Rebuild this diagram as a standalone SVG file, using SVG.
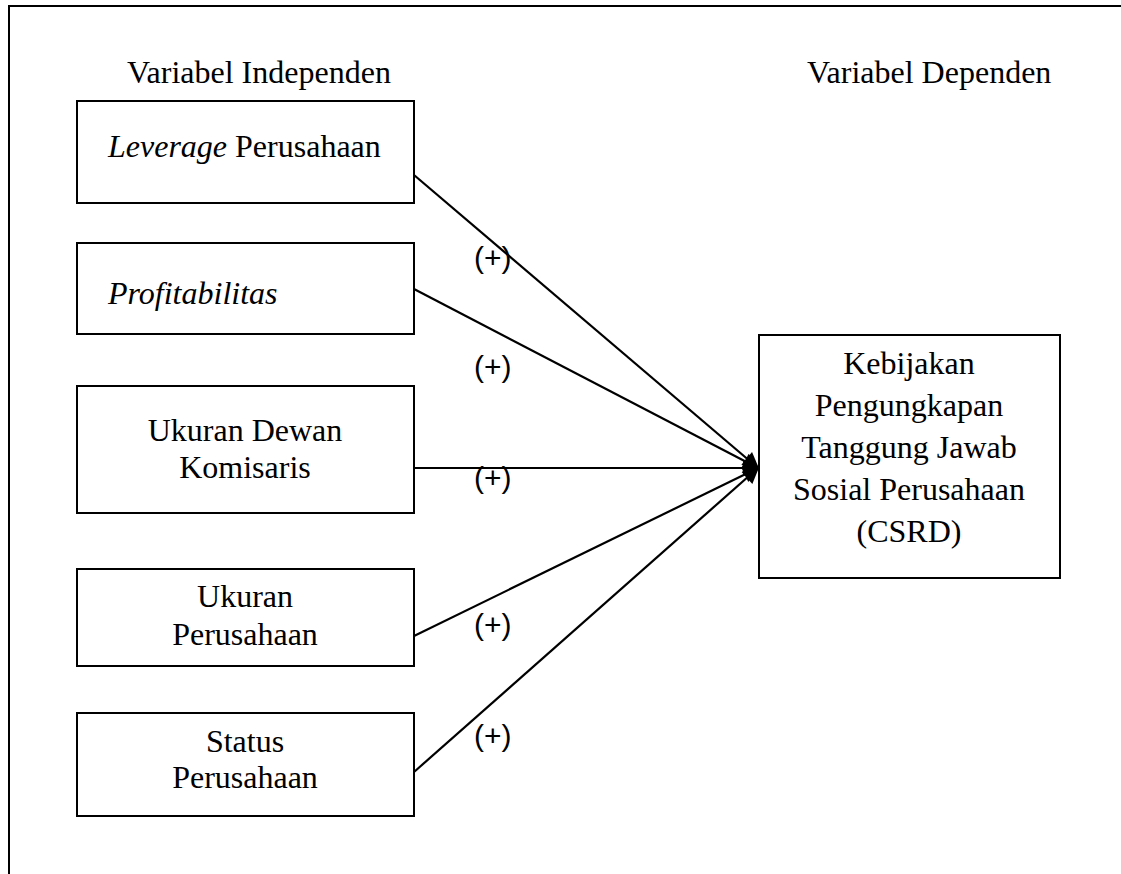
<svg xmlns="http://www.w3.org/2000/svg" width="1121" height="874" viewBox="0 0 1121 874">
<style>
.box{fill:#fff;stroke:#000;stroke-width:2}
.t{font-family:"Liberation Serif","Times New Roman",serif;font-size:32px;fill:#000}
.c{text-anchor:middle}
.lbl{font-family:"Liberation Sans",Arial,sans-serif;font-size:30px;fill:#000}
.con{stroke:#000;stroke-width:2.2;fill:none;marker-end:url(#ah)}
</style>
<defs>
<marker id="ah" viewBox="0 0 10 10" refX="9" refY="5" markerWidth="8" markerHeight="7.5" orient="auto">
<path d="M0,0 L10,5 L0,10 z" fill="#000"/>
</marker>
</defs>
<rect width="1121" height="874" fill="#fff"/>
<path d="M9,874 V6 H1121" fill="none" stroke="#000" stroke-width="2"/>
<text class="t" x="127" y="83">Variabel Independen</text>
<text class="t" x="807" y="83">Variabel Dependen</text>
<g id="connectors">
<line class="con" x1="414" y1="175" x2="758" y2="468"/>
<line class="con" x1="414" y1="289" x2="758" y2="468"/>
<line class="con" x1="414" y1="468" x2="758" y2="468"/>
<line class="con" x1="414" y1="636" x2="758" y2="468"/>
<line class="con" x1="414" y1="772" x2="758" y2="468"/>
<text class="lbl" x="474" y="268">(+)</text>
<text class="lbl" x="474" y="377">(+)</text>
<text class="lbl" x="474" y="488">(+)</text>
<text class="lbl" x="474" y="635">(+)</text>
<text class="lbl" x="474" y="746">(+)</text>
</g>
<g id="leverage">
<rect class="box" x="77" y="101" width="337" height="102"/>
<text class="t" x="108" y="157"><tspan font-style="italic">Leverage</tspan> Perusahaan</text>
</g>
<g id="profitabilitas">
<rect class="box" x="77" y="243" width="337" height="91"/>
<text class="t" x="108" y="304" font-style="italic">Profitabilitas</text>
</g>
<g id="dewan">
<rect class="box" x="77" y="386" width="337" height="127"/>
<text class="t c" x="245" y="441">Ukuran Dewan</text>
<text class="t c" x="245" y="478">Komisaris</text>
</g>
<g id="ukuran">
<rect class="box" x="77" y="569" width="337" height="97"/>
<text class="t c" x="245" y="607">Ukuran</text>
<text class="t c" x="245" y="645">Perusahaan</text>
</g>
<g id="status">
<rect class="box" x="77" y="713" width="337" height="103"/>
<text class="t c" x="245" y="752">Status</text>
<text class="t c" x="245" y="788">Perusahaan</text>
</g>
<g id="csrd">
<rect class="box" x="759" y="335" width="301" height="243"/>
<text class="t c" x="909" y="374">Kebijakan</text>
<text class="t c" x="909" y="416">Pengungkapan</text>
<text class="t c" x="909" y="458">Tanggung Jawab</text>
<text class="t c" x="909" y="500">Sosial Perusahaan</text>
<text class="t c" x="909" y="542">(CSRD)</text>
</g>
</svg>
